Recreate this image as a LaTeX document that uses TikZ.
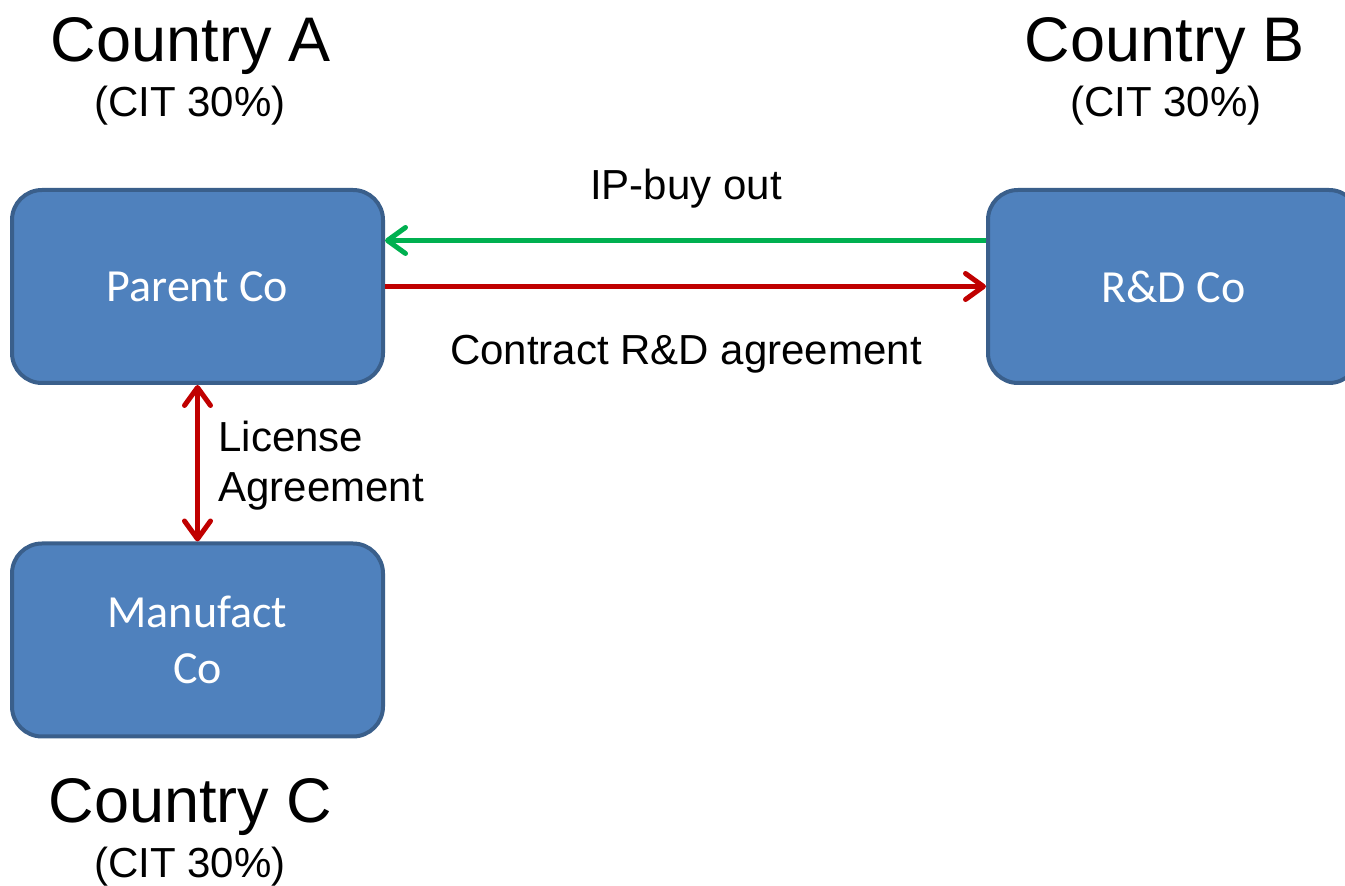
\documentclass[tikz,border=0pt]{standalone}
\usepackage{fontspec}
\setmainfont{Liberation Sans}
\newfontfamily\boxfont{Carlito}
\usetikzlibrary{arrows.meta,positioning}
\definecolor{boxblue}{HTML}{4F81BD}
\definecolor{boxedge}{HTML}{3A5F8B}
\definecolor{flowgreen}{HTML}{00B050}
\definecolor{flowred}{HTML}{C00000}
\tikzset{barb/.tip={Straight Barb[length=9pt,width=13pt,round]}}

\begin{document}
\begin{tikzpicture}[x=0.5pt, y=-0.5pt,
    company/.style={draw=boxedge, fill=boxblue, line width=2pt, rounded corners=15pt,
        minimum width=185.5pt, minimum height=96.5pt, text=white, align=center,
        font=\boxfont\fontsize{23}{28}\selectfont},
    country/.style={anchor=base, font=\fontsize{31.5}{36}\selectfont},
    rate/.style={anchor=base, font=\fontsize{21}{25}\selectfont},
    flow/.style={line width=2.5pt}]
    \useasboundingbox (0,0) rectangle (1345,886);

    % Companies
    \node[company] (parent) at (197.5,286.5) {Parent Co};
    \node[company] (rd) at (1173.5,286.5) {R\&D Co};
    \node[company] (manuf) at (197.5,640) {Manufact\\Co};

    % Countries and tax rates
    \node[country] (ctryA) at (191,62) {Country A};
    \node[rate] (citA) at (190,117) {(CIT 30\%)};
    \node[country] (ctryB) at (1165,62) {Country B};
    \node[rate] (citB) at (1166,117) {(CIT 30\%)};
    \node[country] (ctryC) at (190.5,823) {Country C};
    \node[rate] (citC) at (190,878) {(CIT 30\%)};

    % Flows between companies
    \draw[flow, flowgreen, -barb] ([yshift=23pt]rd.west) -- ([yshift=23pt]parent.east);
    \draw[flow, flowred, -barb] (parent.east) -- (rd.west);
    \draw[flow, flowred, barb-barb] (parent.south) -- (manuf.north);

    \node[rate] (ipbuy) at (686,200) {IP-buy out};
    \node[rate] (contract) at (686,365) {Contract R\&D agreement};
    \node[rate, anchor=west, align=left, inner sep=0pt] (license) at (218,466) {License\\Agreement};
\end{tikzpicture}
\end{document}
